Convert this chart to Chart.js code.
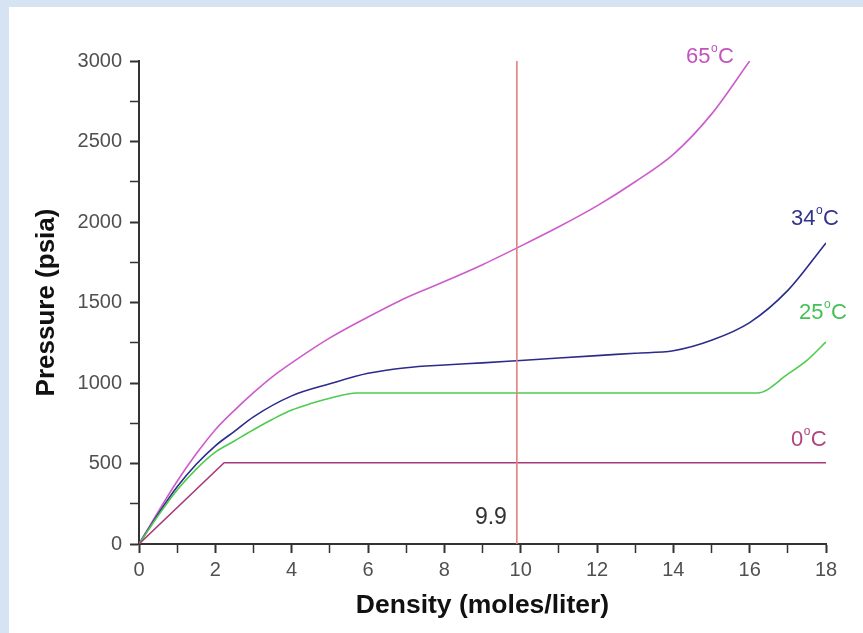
<!DOCTYPE html>
<html>
<head>
<meta charset="utf-8">
<script src="https://cdn.jsdelivr.net/npm/chart.js@4.4.1/dist/chart.umd.min.js"></script>
<style>
  html, body { margin: 0; padding: 0; background: #d5e3f2; }
  #wrap { width: 863px; height: 633px; }
</style>
</head>
<body>
<div id="wrap"><canvas id="pressureChart" width="863" height="633"></canvas></div>
<script>
// isotherms: density (moles/liter) vs pressure (psia)
const density65 = [0, 0.5, 1, 1.5, 2, 2.5, 3, 3.5, 4, 5, 6, 7, 8, 9, 10, 11, 12, 13, 14, 15, 16];
const pressure65 = [0, 200, 390, 560, 710, 830, 940, 1040, 1125, 1280, 1410, 1530, 1630, 1735, 1850, 1970, 2100, 2250, 2420, 2670, 3000];

const density34 = [0, 0.5, 1, 1.5, 2, 2.5, 3, 4, 5, 6, 7, 8, 9, 10, 11, 12, 13, 14, 15, 16, 17, 18];
const pressure34 = [0, 185, 355, 495, 610, 700, 790, 920, 995, 1060, 1095, 1112, 1125, 1140, 1155, 1170, 1185, 1200, 1265, 1375, 1575, 1870];

const density25 = [0, 0.5, 1, 1.5, 2, 2.5, 3, 3.5, 4, 4.5, 5, 5.7, 16.2, 17, 17.5, 18];
const pressure25 = [0, 175, 335, 465, 570, 640, 710, 775, 832, 872, 905, 938, 938, 1055, 1140, 1255];

const density0 = [0, 2.23, 18];
const pressure0 = [0, 505, 505];

const markerDensity = 9.9;
const markerRange = [0, 3000];

const curveNames = ['65', '34', '25', '0'];

function toPoints(xs, ys) {
    return xs.map((x, i) => ({ x: x, y: ys[i] }));
}

const ctx = document.getElementById('pressureChart').getContext('2d');

const backdrop = {
    id: 'backdrop',
    beforeDraw(chart) {
        const c = chart.ctx;
        c.save();
        c.fillStyle = '#d5e3f2';
        c.fillRect(0, 0, chart.width, chart.height);
        c.fillStyle = '#ffffff';
        c.fillRect(9, 7, chart.width - 9, chart.height - 7);
        c.restore();
    }
};

// where each curve's name sits, in data units
const labelSpots = [
    { name: curveNames[0], x: 14.96, y: 3025, color: '#c452bd' },
    { name: curveNames[1], x: 17.71, y: 2020, color: '#33338a' },
    { name: curveNames[2], x: 17.92, y: 1435, color: '#45c055' },
    { name: curveNames[3], x: 17.55, y: 646, color: '#b04580' }
];

const FONT = '"Liberation Sans", Arial, sans-serif';

const curveLabels = {
    id: 'curveLabels',
    afterDatasetsDraw(chart) {
        const c = chart.ctx;
        const xs = chart.scales.x, ys = chart.scales.y;
        c.save();
        c.textBaseline = 'middle';
        c.textAlign = 'left';
        labelSpots.forEach(l => {
            const px = xs.getPixelForValue(l.x);
            const py = ys.getPixelForValue(l.y);
            c.font = '22px ' + FONT;
            const wNum = c.measureText(l.name).width;
            const wC = c.measureText('C').width;
            c.font = '12px ' + FONT;
            const wO = c.measureText('o').width;
            const total = wNum + wO + 1 + wC;
            let left = px - total / 2;
            c.fillStyle = l.color;
            c.font = '22px ' + FONT;
            c.fillText(l.name, left, py);
            c.font = '12px ' + FONT;
            c.fillText('o', left + wNum + 0.5, py - 8);
            c.font = '22px ' + FONT;
            c.fillText('C', left + wNum + wO + 1, py);
        });
        // value of the marker line
        c.fillStyle = '#333333';
        c.font = '23px ' + FONT;
        c.textAlign = 'center';
        c.fillText(String(markerDensity), xs.getPixelForValue(9.22), ys.getPixelForValue(165));
        c.restore();
    }
};

const lineStyle = { showLine: true, pointRadius: 0, borderWidth: 1.6, fill: false };

new Chart(ctx, {
    type: 'scatter',
    data: {
        datasets: [
            Object.assign({ label: 'marker', data: toPoints([markerDensity, markerDensity], markerRange), borderColor: '#e38080', tension: 0 }, lineStyle),
            Object.assign({ label: '0°C', data: toPoints(density0, pressure0), borderColor: '#a8397a', tension: 0 }, lineStyle),
            Object.assign({ label: '25°C', data: toPoints(density25, pressure25), borderColor: '#4fcc4f', cubicInterpolationMode: 'monotone' }, lineStyle),
            Object.assign({ label: '34°C', data: toPoints(density34, pressure34), borderColor: '#2b2b8c', cubicInterpolationMode: 'monotone' }, lineStyle),
            Object.assign({ label: '65°C', data: toPoints(density65, pressure65), borderColor: '#cc5ccc', cubicInterpolationMode: 'monotone' }, lineStyle)
        ]
    },
    options: {
        responsive: false,
        animation: false,
        devicePixelRatio: 1,
        layout: { padding: { left: 30, right: 37, top: 61, bottom: 0 } },
        plugins: {
            legend: { display: false },
            tooltip: { enabled: false }
        },
        scales: {
            x: {
                type: 'linear',
                min: 0,
                max: 18,
                afterFit: s => { s.height = 89; },
                ticks: {
                    stepSize: 1,
                    autoSkip: false,
                    maxRotation: 0,
                    padding: 5,
                    color: '#505050',
                    font: { family: FONT, size: 20 },
                    callback: v => (v % 2 === 0 ? v : '')
                },
                grid: {
                    drawOnChartArea: false,
                    drawTicks: true,
                    tickLength: 9,
                    tickColor: '#333333',
                    tickWidth: c => (c.tick && c.tick.value % 2 === 0 ? 2 : 1.5)
                },
                border: { display: true, color: '#333333', width: 2 },
                title: {
                    display: true,
                    text: 'Density (moles/liter)',
                    color: '#111111',
                    font: { family: FONT, size: 26.5, weight: 'bold' },
                    padding: { top: 0, bottom: 11 }
                }
            },
            y: {
                min: 0,
                max: 3000,
                afterFit: s => { s.width = 109; },
                ticks: {
                    stepSize: 250,
                    autoSkip: false,
                    padding: 8,
                    color: '#505050',
                    font: { family: FONT, size: 20 },
                    callback: v => (v % 500 === 0 ? v : '')
                },
                grid: {
                    drawOnChartArea: false,
                    drawTicks: true,
                    tickLength: 9,
                    tickColor: '#333333',
                    tickWidth: c => (c.tick && c.tick.value % 500 === 0 ? 2 : 1.5)
                },
                border: { display: true, color: '#333333', width: 2 },
                title: {
                    display: true,
                    text: 'Pressure (psia)',
                    color: '#111111',
                    font: { family: FONT, size: 26, weight: 'bold' },
                    padding: { top: 1, bottom: 0 }
                }
            }
        }
    },
    plugins: [backdrop, curveLabels]
});
</script>
</body>
</html>
